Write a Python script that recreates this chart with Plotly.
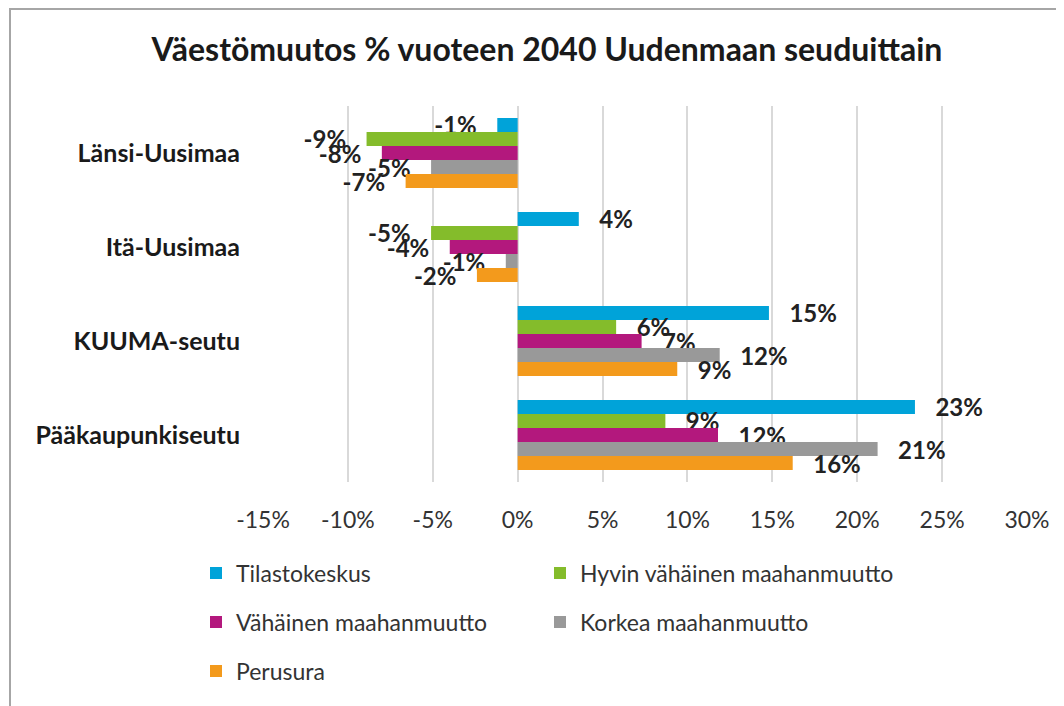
import plotly.graph_objects as go

regions = ["Länsi-Uusimaa", "Itä-Uusimaa", "KUUMA-seutu", "Pääkaupunkiseutu"]

tilastokeskus = [-1.2, 3.6, 14.8, 23.4]
hyvin_vahainen = [-8.9, -5.1, 5.8, 8.7]
vahainen = [-8.0, -4.0, 7.3, 11.8]
korkea = [-5.1, -0.7, 11.9, 21.2]
perusura = [-6.6, -2.4, 9.4, 16.2]

tick_vals = [-15, -10, -5, 0, 5, 10, 15, 20, 25, 30]
tick_text = ["-15%", "-10%", "-5%", "0%", "5%", "10%", "15%", "20%", "25%", "30%"]

series = [
    ("Tilastokeskus", tilastokeskus, "#00a3d9"),
    ("Hyvin vähäinen maahanmuutto", hyvin_vahainen, "#84bc2b"),
    ("Vähäinen maahanmuutto", vahainen, "#b3187d"),
    ("Korkea maahanmuutto", korkea, "#999999"),
    ("Perusura", perusura, "#f39a1c"),
]

FONT = "Lato"
OFF = 8  # page body margin
W, H = 1064, 706
L, T = 263 - OFF, 106 - OFF
pw, ph = 764, 376
R, B = W - L - pw, H - T - ph


def px2x(px):
    return (px - OFF - L) / pw


def px2y(py):
    return (T + ph - (py - OFF)) / ph


def label(v):
    s = f"{round(v):.0f}%"
    return ("\u00a0\u00a0\u00a0" + s) if v >= 0 else (s + "\u00a0\u00a0\u00a0")


# legend slots: two columns, three rows (screen pixels)
legend_names = ["legend", "legend2", "legend3", "legend4", "legend5"]
legend_pos = [(196, 573), (540, 573), (196, 622), (540, 622), (196, 671)]

fig = go.Figure()
for (name, vals, color), lg in zip(series, legend_names):
    fig.add_trace(go.Bar(
        y=regions, x=vals, name=name, orientation="h",
        marker=dict(color=color, line=dict(width=0)),
        text=[label(v) for v in vals], textposition="outside",
        constraintext="none", cliponaxis=False,
        textfont=dict(family=FONT, size=24, color="#222222", weight="bold"),
        legend=lg, showlegend=True,
    ))

legends = {}
for lg, (lx, ly) in zip(legend_names, legend_pos):
    legends[lg] = dict(
        orientation="h", xanchor="left", yanchor="middle",
        x=px2x(lx), y=px2y(ly),
        font=dict(family=FONT, size=23, color="#333333"),
        bgcolor="rgba(0,0,0,0)",
    )

fig.update_layout(
    width=W, height=H, showlegend=True,
    margin=dict(l=L, r=R, t=T, b=B),
    paper_bgcolor="white", plot_bgcolor="white",
    barmode="group", bargap=0.255, bargroupgap=0,
    title=dict(text="<b>Väestömuutos % vuoteen 2040 Uudenmaan seuduittain</b>",
               x=(547 - OFF) / W, xref="container", xanchor="center",
               y=1 - (50 - OFF) / H, yanchor="middle",
               font=dict(family=FONT, size=32, color="#1a1a1a")),
    xaxis=dict(range=[-15, 30], tickvals=tick_vals, ticktext=tick_text,
               showgrid=True, gridcolor="#d9d9d9", gridwidth=2,
               zeroline=True, zerolinecolor="#d9d9d9", zerolinewidth=2,
               showline=False, ticks="", ticklabelstandoff=22,
               tickfont=dict(family=FONT, size=23, color="#333333")),
    yaxis=dict(autorange="reversed", showgrid=False, showline=False, ticks="",
               ticklabelstandoff=22,
               tickfont=dict(family=FONT, size=25, color="#1a1a1a", weight="bold")),
    shapes=[dict(type="rect", xref="paper", yref="paper",
                 x0=px2x(10), x1=px2x(1090), y0=px2y(730), y1=px2y(9),
                 line=dict(color="#a6a6a6", width=2), fillcolor="rgba(0,0,0,0)",
                 layer="below")],
    **legends,
)

fig.write_html("out.html")
